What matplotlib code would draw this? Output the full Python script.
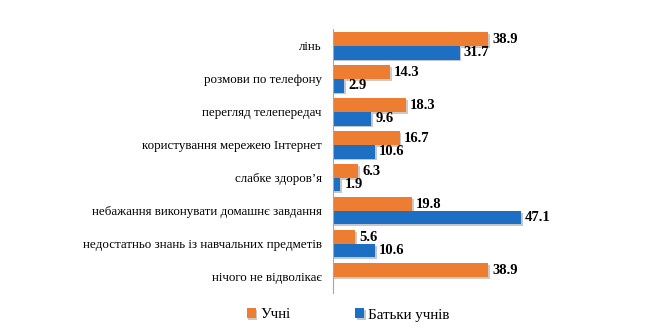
import numpy as np
import matplotlib
matplotlib.use('Agg')
from matplotlib import pyplot as plt
import matplotlib.patheffects as pe

categories = ['лінь', 'розмови по телефону', 'перегляд телепередач',
              'користування мережею Інтернет', "слабке здоров’я",
              'небажання виконувати домашнє завдання',
              'недостатньо знань із навчальних предметів',
              'нічого не відволікає']
pupils = [38.9, 14.3, 18.3, 16.7, 6.3, 19.8, 5.6, 38.9]
parents = [31.7, 2.9, 9.6, 10.6, 1.9, 47.1, 10.6, None]

orange = '#ED7D31'
blue = '#1C6FC2'
plt.rcParams['font.family'] = ['Liberation Serif', 'DejaVu Serif']

fig = plt.figure(figsize=(6.45, 3.35), dpi=100)
ax = fig.add_axes([0.516, 0.124, 0.31, 0.788])

y = np.arange(len(categories))
h = 0.41
shadow = [pe.SimplePatchShadow(offset=(1.2, -1.2), alpha=0.25), pe.Normal()]

b1 = ax.barh(y - h/2, pupils, height=h, color=orange, label='Учні')
par = [np.nan if v is None else v for v in parents]
b2 = ax.barh(y + h/2, par, height=h, color=blue, label='Батьки учнів')
for b in list(b1) + list(b2):
    b.set_path_effects(shadow)

for i, v in enumerate(pupils):
    ax.text(v + 1.0, y[i] - h/2, f'{v:.1f}', va='center', ha='left',
            fontsize=10.5, fontweight='bold')
for i, v in enumerate(parents):
    if v is not None:
        ax.text(v + 1.0, y[i] + h/2, f'{v:.1f}', va='center', ha='left',
                fontsize=10.5, fontweight='bold')

ax.set_ylim(len(categories) - 0.5, -0.5)
ax.set_xlim(0, 50)
ax.set_yticks(y)
ax.set_yticklabels(categories, fontsize=9.4)
ax.tick_params(axis='y', length=0, pad=8)
ax.set_xticks([])
for s in ['top', 'right', 'bottom']:
    ax.spines[s].set_visible(False)
ax.spines['left'].set_color('#A6A6A6')
ax.spines['left'].set_linewidth(0.8)

fig.legend(handles=[b1, b2], loc='lower center', bbox_to_anchor=(0.54, 0.0),
           ncol=2, frameon=False, fontsize=10.8, handlelength=0.6,
           handleheight=0.6, columnspacing=4.3, handletextpad=0.3)

fig.savefig('out.png', dpi=100)
